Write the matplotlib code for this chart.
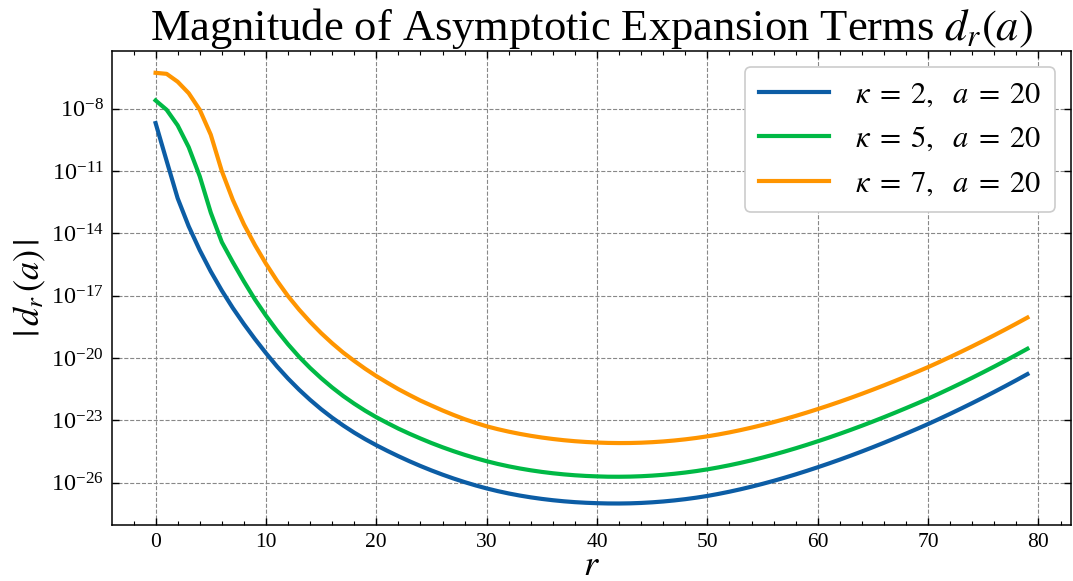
import numpy as np
import matplotlib
matplotlib.use("Agg")
import matplotlib.pyplot as plt
import matplotlib.ticker as mticker

# ---- data: r = 0..79, values are log10 |d_r(a)| ----
r_vals = list(range(80))
log_k2 = [-8.69, -10.51, -12.31, -13.66, -14.81, -15.834, -16.754, -17.594, -18.364, -19.084,
          -19.764, -20.404, -20.989, -21.524, -22.014, -22.464, -22.874, -23.249, -23.594, -23.909,
          -24.199, -24.47, -24.727, -24.97, -25.199, -25.414, -25.615, -25.802, -25.975, -26.134,
          -26.279, -26.408, -26.522, -26.622, -26.709, -26.784, -26.847, -26.899, -26.94, -26.97,
          -26.99, -27.003, -27.005, -26.997, -26.978, -26.948, -26.908, -26.857, -26.796, -26.724,
          -26.641, -26.544, -26.437, -26.32, -26.194, -26.059, -25.915, -25.763, -25.603, -25.435,
          -25.26, -25.08, -24.893, -24.699, -24.499, -24.293, -24.081, -23.863, -23.64, -23.412,
          -23.179, -22.936, -22.687, -22.432, -22.171, -21.904, -21.631, -21.352, -21.067, -20.776]
log_k5 = [-7.60, -8.05, -8.80, -9.85, -11.25, -13.0, -14.42, -15.39, -16.31, -17.18,
          -17.96, -18.68, -19.34, -19.94, -20.48, -20.97, -21.42, -21.83, -22.20, -22.54,
          -22.85, -23.13, -23.40, -23.645, -23.875, -24.094, -24.297, -24.486, -24.661, -24.822,
          -24.969, -25.10, -25.216, -25.318, -25.407, -25.484, -25.549, -25.603, -25.646, -25.678,
          -25.70, -25.715, -25.717, -25.710, -25.692, -25.663, -25.624, -25.574, -25.514, -25.443,
          -25.361, -25.267, -25.163, -25.049, -24.926, -24.794, -24.653, -24.504, -24.347, -24.182,
          -24.01, -23.833, -23.649, -23.458, -23.261, -23.058, -22.849, -22.634, -22.414, -22.189,
          -21.959, -21.716, -21.467, -21.212, -20.951, -20.684, -20.411, -20.132, -19.847, -19.556]
log_k7 = [-6.27, -6.32, -6.70, -7.25, -8.05, -9.25, -11.0, -12.39, -13.56, -14.56,
          -15.46, -16.28, -17.02, -17.67, -18.26, -18.80, -19.29, -19.74, -20.14, -20.52,
          -20.87, -21.19, -21.50, -21.78, -22.05, -22.29, -22.525, -22.742, -22.945, -23.124,
          -23.289, -23.425, -23.546, -23.653, -23.747, -23.829, -23.899, -23.958, -24.006, -24.043,
          -24.07, -24.088, -24.095, -24.092, -24.078, -24.053, -24.018, -23.972, -23.916, -23.849,
          -23.771, -23.681, -23.581, -23.471, -23.352, -23.224, -23.087, -22.942, -22.789, -22.628,
          -22.46, -22.286, -22.105, -21.917, -21.723, -21.523, -21.317, -21.105, -20.888, -20.666,
          -20.439, -20.198, -19.951, -19.698, -19.439, -19.174, -18.903, -18.626, -18.343, -18.054]
labels = [r'$\kappa\;=\;2,\ \ a\;=\;20$', r'$\kappa\;=\;5,\ \ a\;=\;20$', r'$\kappa\;=\;7,\ \ a\;=\;20$']
colors = ['#0C5DA5', '#00B945', '#FF9500']
y_major_exp = [-26, -23, -20, -17, -14, -11, -8]
x_ticks = [0, 10, 20, 30, 40, 50, 60, 70, 80]

plt.rcParams['font.family'] = ['Liberation Serif', 'DejaVu Serif']
plt.rcParams['mathtext.fontset'] = 'stix'

fig = plt.figure(figsize=(10.73, 5.81), dpi=100)
ax = fig.add_axes([112/1073, 1-525/581, (1071-112)/1073, (525-51)/581])

r_arr = np.array(r_vals)
for vals, lab, c in zip([log_k2, log_k5, log_k7], labels, colors):
    ax.plot(r_arr, 10.0**np.array(vals), color=c, lw=3, label=lab)

ax.set_yscale('log')
ax.yaxis.set_major_locator(mticker.FixedLocator([10.0**e for e in y_major_exp]))
ax.yaxis.set_major_formatter(mticker.LogFormatterSciNotation())
ax.yaxis.set_minor_locator(mticker.NullLocator())
ax.xaxis.set_major_locator(mticker.FixedLocator(x_ticks))
ax.xaxis.set_minor_locator(mticker.MultipleLocator(2))
ax.set_xlim(-3.95, 82.95)
ax.set_ylim(10**-28.04, 10**-5.22)

ax.tick_params(which='both', direction='in', top=True, right=True, pad=6)
ax.tick_params(axis='x', labelsize=15.5)
ax.tick_params(axis='y', labelsize=17.5)
ax.tick_params(which='major', length=5, width=1)
ax.tick_params(which='minor', length=2.8, width=0.8)
for s in ax.spines.values():
    s.set_linewidth(1.1)

ax.grid(True, which='major', linestyle='--', color='#888888', lw=0.8)

ax.set_title(r'Magnitude of Asymptotic Expansion Terms $d_r(a)$', fontsize=32, pad=6)
ax.set_xlabel(r'$r$', fontsize=26, labelpad=-2)
ax.set_ylabel(r'$|\,d_r\,(a)\,|$', fontsize=26, labelpad=2)

leg = ax.legend(loc='upper right', fontsize=22, handlelength=2.3, handletextpad=0.85,
                labelspacing=0.5, framealpha=1, edgecolor='#cccccc', fancybox=True,
                borderpad=0.45, borderaxespad=0, bbox_to_anchor=(0.9833, 0.9662))
leg.get_frame().set_linewidth(1.2)

fig.savefig('out.png', dpi=100)
